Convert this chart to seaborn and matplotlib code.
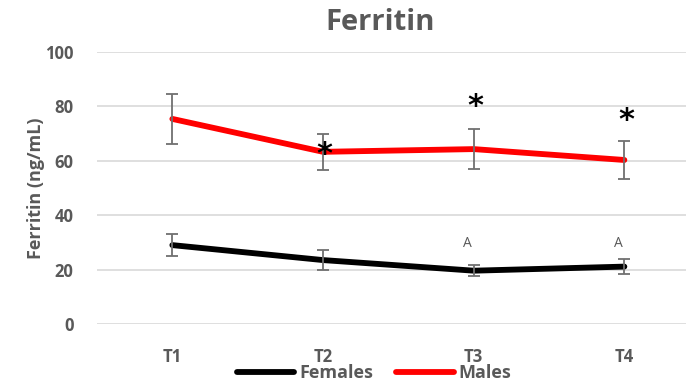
import matplotlib
matplotlib.use("Agg")
import matplotlib.pyplot as plt
import seaborn as sns
import pandas as pd
import numpy as np

timepoints = ["T1", "T2", "T3", "T4"]
females = [29.0, 23.5, 19.6, 21.1]
females_err = [4.0, 3.7, 2.0, 2.9]
males = [75.4, 63.3, 64.3, 60.3]
males_err = [9.3, 6.6, 7.3, 7.0]
star_pos = [(1, 62.3), (2, 79.8), (3, 74.8)]
letter_pos = [(2, 29.5), (3, 29.5)]
yticks = [0, 20, 40, 60, 80, 100]

sns.set_theme(style="white")
plt.rcParams['font.family'] = ['Open Sans', 'DejaVu Sans']
plt.rcParams['xtick.major.pad'] = 17
plt.rcParams['ytick.major.pad'] = 17

df = pd.DataFrame({
    "Time": timepoints * 2,
    "Value": females + males,
    "Group": ["Females"] * 4 + ["Males"] * 4,
})

fig = plt.figure(figsize=(6.86, 3.85), dpi=100)
ax = fig.add_axes([97/686, 1 - 324/385, 1 - 97/686 + 0.02, (324 - 52)/385])

gray = "#595959"
for y in yticks:
    ax.axhline(y, color="#d9d9d9", lw=1.2, zorder=0)

xs = np.arange(len(timepoints))
ax.errorbar(xs, males, yerr=males_err, fmt="none", ecolor="#707070", elinewidth=1.3, capsize=4.5, capthick=1.3, zorder=3)
ax.errorbar(xs, females, yerr=females_err, fmt="none", ecolor="#707070", elinewidth=1.3, capsize=4.5, capthick=1.3, zorder=3)

sns.lineplot(data=df, x="Time", y="Value", hue="Group", palette={"Females": "black", "Males": "#ff0000"},
             linewidth=4.2, ax=ax, zorder=2, sort=False)
for l in ax.get_lines():
    l.set_solid_capstyle("round")

for x, y in star_pos:
    ax.text(x + 0.01, y, "*", ha="center", va="center", fontsize=22, fontweight="bold", color="black", family="DejaVu Sans")
for x, y in letter_pos:
    ax.text(x - 0.04, y, "A", ha="center", va="center", fontsize=10, color=gray)

ax.set_ylim(0, 100)
ax.set_xlim(-0.5, 3.5)
ax.set_yticks(yticks)
ax.tick_params(axis="both", length=0, labelcolor=gray, labelsize=12)
ax.xaxis.set_tick_params(pad=17)
ax.yaxis.set_tick_params(pad=17)
for t in ax.get_xticklabels() + ax.get_yticklabels():
    t.set_fontweight("bold")
for s in ax.spines.values():
    s.set_visible(False)
ax.set_xlabel("")
ax.set_ylabel("Ferritin (ng/mL)", fontsize=13, fontweight="bold", color=gray)
ax.yaxis.set_label_coords(-0.087, 0.5)

leg = ax.legend(loc="center", bbox_to_anchor=(374/686, 1 - 373/385), bbox_transform=fig.transFigure,
                ncol=2, frameon=False, handlelength=3.2, handletextpad=0.25, columnspacing=1.3,
                prop={"weight": "bold", "size": 13, "family": ["Open Sans", "DejaVu Sans"]})
for t in leg.get_texts():
    t.set_color(gray)
for h in leg.get_lines():
    h.set_linewidth(4.2)
    h.set_solid_capstyle("round")

fig.text(380/686, 1 - 22/385, "Ferritin", ha="center", va="center", fontsize=21, fontweight="bold", color=gray)

fig.savefig("out.png", dpi=100)
